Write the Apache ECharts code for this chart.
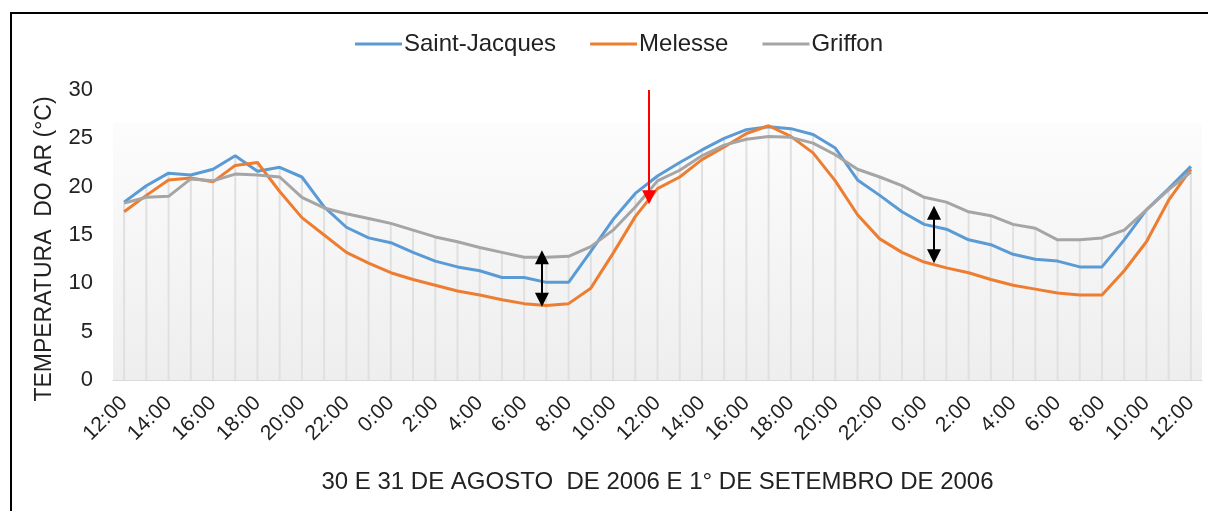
<!DOCTYPE html>
<html>
<head>
<meta charset="utf-8">
<script src="https://cdn.jsdelivr.net/npm/echarts@6.0.0/dist/echarts.min.js"></script>
<style>
  html, body { margin: 0; padding: 0; background: #fff; overflow: hidden; }
  #chart { width: 1208px; height: 511px; }
  #frame {
    position: absolute; left: 10px; top: 12px; width: 1400px; height: 700px;
    border: 2px solid #000; pointer-events: none;
  }
</style>
</head>
<body>
<div id="chart"></div>
<div id="frame"></div>
<script>
// hourly readings, 30/08/2006 12:00 -> 01/09/2006 12:00
const hours = Array.from({ length: 49 }, (_, i) => i);
const saintJacques = [
  18.4, 20.1, 21.4, 21.2, 21.8, 23.2, 21.6, 22.0, 21.0, 17.9, 15.8, 14.7, 14.2,
  13.2, 12.3, 11.7, 11.3, 10.6, 10.6, 10.1, 10.1, 13.3, 16.6, 19.3, 21.1,
  22.5, 23.8, 25.0, 25.9, 26.2, 26.0, 25.4, 24.0, 20.7, 19.1, 17.4, 16.1,
  15.6, 14.5, 14.0, 13.0, 12.5, 12.3, 11.7, 11.7, 14.5, 17.6, 19.8, 22.1
];
const melesse = [
  17.4, 19.1, 20.7, 20.9, 20.5, 22.2, 22.5, 19.5, 16.8, 15.0, 13.2, 12.1, 11.1,
  10.4, 9.8, 9.2, 8.8, 8.3, 7.9, 7.7, 7.9, 9.5, 13.1, 16.9, 19.8,
  21.0, 22.8, 24.1, 25.5, 26.3, 25.2, 23.5, 20.6, 17.1, 14.6, 13.2, 12.2,
  11.6, 11.1, 10.4, 9.8, 9.4, 9.0, 8.8, 8.8, 11.3, 14.3, 18.6, 21.8
];
const griffon = [
  18.3, 18.9, 19.0, 20.8, 20.6, 21.3, 21.2, 21.0, 18.9, 17.8, 17.2, 16.7, 16.2,
  15.5, 14.8, 14.3, 13.7, 13.2, 12.7, 12.7, 12.8, 13.8, 15.5, 17.9, 20.6,
  21.7, 23.2, 24.3, 24.9, 25.2, 25.1, 24.5, 23.3, 21.8, 21.0, 20.1, 18.9,
  18.4, 17.4, 17.0, 16.1, 15.7, 14.5, 14.5, 14.7, 15.5, 17.6, 19.7, 21.5
];
const labelHours = hours.filter(h => h % 2 === 0);
const startHour = 12;

// annotation arrows: [x (hour index), from temp, to temp]
const redArrow = [23.62, 30, 18.9];
const gapArrows = [
  [18.8, 12.7, 8.3],
  [36.44, 17.3, 12.8],
];

const FONT = 'Liberation Sans, Arial, sans-serif';
const TEXT = '#222222';

const pairs = arr => arr.map((v, i) => [hours[i], v]);
const dropLines = hours.map(i => [i, Math.max(saintJacques[i], melesse[i], griffon[i])]);

const chart = echarts.init(document.getElementById('chart'));

const lineSeries = (name, values, color) => ({
  name,
  type: 'line',
  data: pairs(values),
  symbol: 'none',
  lineStyle: { width: 3, color },
  itemStyle: { color },
  z: 3,
});

const griffonSeries = lineSeries('Griffon', griffon, '#A5A5A5');
griffonSeries.markLine = {
  silent: true,
  animation: false,
  label: { show: false },
  emphasis: { disabled: true },
  data: [
    [
      { coord: [redArrow[0], redArrow[1]], symbol: 'none', lineStyle: { color: '#FF0000', width: 2, type: 'solid' } },
      { coord: [redArrow[0], redArrow[2]], symbol: 'triangle', symbolSize: [14, 14] },
    ],
    ...gapArrows.map(a => [
      { coord: [a[0], a[1]], symbol: 'triangle', symbolSize: [14, 14], lineStyle: { color: '#000', width: 2, type: 'solid' } },
      { coord: [a[0], a[2]], symbol: 'triangle', symbolSize: [14, 14] },
    ]),
  ],
};

const option = {
  backgroundColor: '#fff',
  animation: false,
  textStyle: { fontFamily: FONT, color: TEXT },
  legend: {
    data: ['Saint-Jacques', 'Melesse', 'Griffon'],
    left: 350,
    top: 27,
    icon: 'rect',
    itemWidth: 47,
    itemHeight: 3,
    itemGap: 34,
    textStyle: { fontSize: 24, color: TEXT, fontFamily: FONT, padding: [0, 0, 0, -3] },
  },
  grid: {
    left: 113,
    right: 6,
    top: 90,
    bottom: 131,
    show: true,
    borderWidth: 0,
    backgroundColor: new echarts.graphic.LinearGradient(0, 0, 0, 1, [
      { offset: 0, color: '#ffffff' },
      { offset: 0.11, color: '#ffffff' },
      { offset: 0.115, color: '#fcfcfc' },
      { offset: 1, color: '#eeeeee' },
    ]),
  },
  xAxis: {
    type: 'value',
    min: -0.5,
    max: 48.5,
    splitLine: { show: false },
    axisLine: { show: true, lineStyle: { color: '#d9d9d9', width: 1 } },
    axisTick: { show: false },
    axisLabel: {
      customValues: labelHours,
      rotate: 45,
      margin: 20,
      fontSize: 21,
      color: TEXT,
      fontFamily: FONT,
      formatter: v => ((startHour + v) % 24) + ':00',
    },
    name: '30 E 31 DE AGOSTO  DE 2006 E 1° DE SETEMBRO DE 2006',
    nameLocation: 'middle',
    nameGap: 90,
    nameTextStyle: { fontSize: 24, color: TEXT, fontFamily: FONT },
  },
  yAxis: {
    type: 'value',
    min: 0,
    max: 30,
    interval: 5,
    splitLine: { show: false },
    axisLine: { show: false },
    axisTick: { show: false },
    axisLabel: { fontSize: 22, color: TEXT, fontFamily: FONT, margin: 20 },
  },
  graphic: [
    {
      type: 'text',
      x: 45,
      y: 249,
      rotation: Math.PI / 2,
      style: {
        text: 'TEMPERATURA  DO AR (°C)',
        font: '23px ' + FONT,
        fill: TEXT,
        textAlign: 'center',
        textVerticalAlign: 'middle',
      },
    },
  ],
  series: [
    {
      name: 'drop',
      type: 'bar',
      data: dropLines,
      barWidth: 2,
      itemStyle: { color: '#e0e0e0' },
      silent: true,
      z: 1,
    },
    lineSeries('Saint-Jacques', saintJacques, '#5B9BD5'),
    lineSeries('Melesse', melesse, '#ED7D31'),
    griffonSeries,
  ],
};

chart.setOption(option);
</script>
</body>
</html>
